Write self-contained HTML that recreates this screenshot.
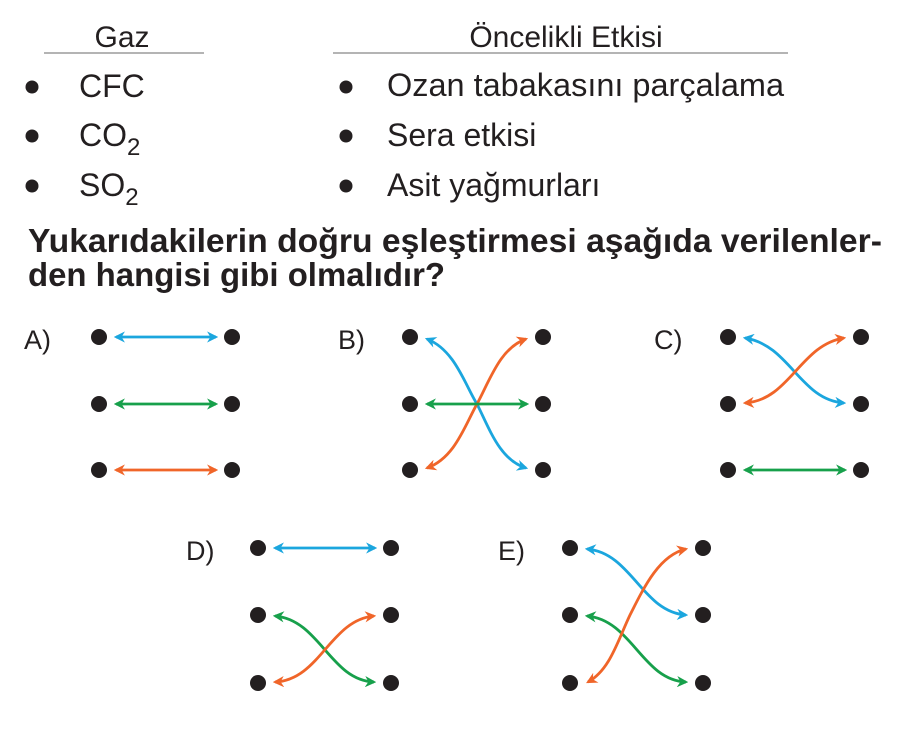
<!DOCTYPE html>
<html><head><meta charset="utf-8"><style>
html,body{margin:0;padding:0;background:#fff;}
svg{display:block}
text{font-family:"Liberation Sans",sans-serif;fill:#231f20}
</style></head><body>
<svg width="919" height="756" viewBox="0 0 919 756" xmlns="http://www.w3.org/2000/svg">
<defs>
<marker id="mb" viewBox="0 0 10 10" refX="8" refY="5" markerWidth="4" markerHeight="4" orient="auto-start-reverse" markerUnits="strokeWidth"><path d="M0,0 L10,5 L0,10 L3,5z" fill="#1ba6de"/></marker>
<marker id="mg" viewBox="0 0 10 10" refX="8" refY="5" markerWidth="4" markerHeight="4" orient="auto-start-reverse" markerUnits="strokeWidth"><path d="M0,0 L10,5 L0,10 L3,5z" fill="#17a04b"/></marker>
<marker id="mo" viewBox="0 0 10 10" refX="8" refY="5" markerWidth="4" markerHeight="4" orient="auto-start-reverse" markerUnits="strokeWidth"><path d="M0,0 L10,5 L0,10 L3,5z" fill="#f06529"/></marker>
</defs>
<text x="122" y="47" font-size="30" text-anchor="middle">Gaz</text>
<line x1="44" y1="53" x2="204" y2="53" stroke="#888" stroke-width="1.2"/>
<text x="566" y="47" font-size="30" text-anchor="middle">Öncelikli Etkisi</text>
<line x1="333" y1="53" x2="788" y2="53" stroke="#888" stroke-width="1.2"/>
<g fill="#231f20">
<circle cx="32" cy="87" r="6.5"/><circle cx="32" cy="136" r="6.5"/><circle cx="32" cy="186" r="6.5"/>
<circle cx="346" cy="87" r="6.5"/><circle cx="346" cy="136" r="6.5"/><circle cx="346" cy="186" r="6.5"/>
</g>
<text x="79" y="97" font-size="32">CFC</text>
<text x="79" y="146" font-size="32">CO<tspan font-size="24" dy="9">2</tspan></text>
<text x="79" y="196" font-size="32">SO<tspan font-size="24" dy="9">2</tspan></text>
<text x="387" y="96" font-size="32" textLength="397" lengthAdjust="spacingAndGlyphs">Ozan tabakasını parçalama</text>
<text x="387" y="146" font-size="32">Sera etkisi</text>
<text x="387" y="196" font-size="32">Asit yağmurları</text>
<text x="28" y="252" font-size="33" font-weight="bold" textLength="854" lengthAdjust="spacingAndGlyphs">Yukarıdakilerin doğru eşleştirmesi aşağıda verilenler-</text>
<text x="28" y="286" font-size="33" font-weight="bold" textLength="417" lengthAdjust="spacingAndGlyphs">den hangisi gibi olmalıdır?</text>
<g font-size="27">
<text x="24" y="349">A)</text>
<text x="338" y="349">B)</text>
<text x="654" y="349">C)</text>
<text x="186" y="560">D)</text>
<text x="498" y="560">E)</text>
</g>
<g fill="#231f20">
<circle cx="99" cy="337" r="8"/><circle cx="232" cy="337" r="8"/>
<circle cx="99" cy="404" r="8"/><circle cx="232" cy="404" r="8"/>
<circle cx="99" cy="470" r="8"/><circle cx="232" cy="470" r="8"/>
<circle cx="410" cy="337" r="8"/><circle cx="543" cy="337" r="8"/>
<circle cx="410" cy="404" r="8"/><circle cx="543" cy="404" r="8"/>
<circle cx="410" cy="470" r="8"/><circle cx="543" cy="470" r="8"/>
<circle cx="728" cy="337" r="8"/><circle cx="861" cy="337" r="8"/>
<circle cx="728" cy="404" r="8"/><circle cx="861" cy="404" r="8"/>
<circle cx="728" cy="470" r="8"/><circle cx="861" cy="470" r="8"/>
<circle cx="258" cy="548" r="8"/><circle cx="391" cy="548" r="8"/>
<circle cx="258" cy="615" r="8"/><circle cx="391" cy="615" r="8"/>
<circle cx="258" cy="683" r="8"/><circle cx="391" cy="683" r="8"/>
<circle cx="570" cy="548" r="8"/><circle cx="703" cy="548" r="8"/>
<circle cx="570" cy="615" r="8"/><circle cx="703" cy="615" r="8"/>
<circle cx="570" cy="683" r="8"/><circle cx="703" cy="683" r="8"/>
</g>
<g fill="none" stroke-width="2.8">
<path d="M116,337 H216" stroke="#1ba6de" marker-start="url(#mb)" marker-end="url(#mb)"/>
<path d="M116,404 H216" stroke="#17a04b" marker-start="url(#mg)" marker-end="url(#mg)"/>
<path d="M116,470 H216" stroke="#f06529" marker-start="url(#mo)" marker-end="url(#mo)"/>
<path d="M427,339 C455,350 465,385 477,404 C490,430 500,460 526,468" stroke="#1ba6de" marker-start="url(#mb)" marker-end="url(#mb)"/>
<path d="M427,468 C455,458 465,425 477,404 C490,380 500,348 526,339" stroke="#f06529" marker-start="url(#mo)" marker-end="url(#mo)"/>
<path d="M427,404 H527" stroke="#17a04b" marker-start="url(#mg)" marker-end="url(#mg)"/>
<path d="M745,338 C790,345 800,400 844,403" stroke="#1ba6de" marker-start="url(#mb)" marker-end="url(#mb)"/>
<path d="M745,403 C790,400 800,345 844,338" stroke="#f06529" marker-start="url(#mo)" marker-end="url(#mo)"/>
<path d="M745,470 H845" stroke="#17a04b" marker-start="url(#mg)" marker-end="url(#mg)"/>
<path d="M275,548 H375" stroke="#1ba6de" marker-start="url(#mb)" marker-end="url(#mb)"/>
<path d="M275,616 C320,620 330,680 374,682" stroke="#17a04b" marker-start="url(#mg)" marker-end="url(#mg)"/>
<path d="M275,682 C320,680 330,620 374,616" stroke="#f06529" marker-start="url(#mo)" marker-end="url(#mo)"/>
<path d="M587,549 C632,553 642,612 686,615" stroke="#1ba6de" marker-start="url(#mb)" marker-end="url(#mb)"/>
<path d="M587,616 C632,620 642,680 686,682" stroke="#17a04b" marker-start="url(#mg)" marker-end="url(#mg)"/>
<path d="M588,682 C610,670 618,640 630,615 C645,585 660,555 686,549" stroke="#f06529" marker-start="url(#mo)" marker-end="url(#mo)"/>
</g>
</svg>
</body></html>
